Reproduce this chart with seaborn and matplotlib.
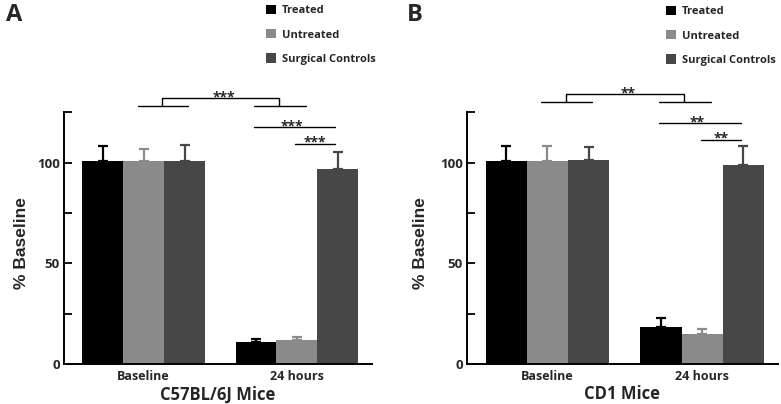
import matplotlib
matplotlib.use("Agg")
import numpy as np
import pandas as pd
import seaborn as sns
import matplotlib.pyplot as plt
from matplotlib import font_manager
from matplotlib.ticker import FixedLocator

# Datos
grupos = ["Treated", "Untreated", "Surgical Controls"]
tiempos = ["Baseline", "24 hours"]

# Panel A - C57BL/6J
a_treated = [101, 11]
a_untreated = [101, 12]
a_surgical = [101, 97]
a_treated_err = [7.5, 1.5]
a_untreated_err = [6, 1.5]
a_surgical_err = [8, 8.5]
a_stars = ["***", "***", "***"]

# Panel B - CD1
b_treated = [101, 18.5]
b_untreated = [101, 15]
b_surgical = [101.5, 99]
b_treated_err = [7.5, 4.5]
b_untreated_err = [7.5, 2.5]
b_surgical_err = [6.5, 9.5]
b_stars = ["**", "**", "**"]

colores = {"Treated": "#000000", "Untreated": "#8a8a8a", "Surgical Controls": "#474747"}

sns.set_theme(style="ticks")
plt.rcParams["font.family"] = ["Open Sans", "DejaVu Sans"]
plt.rcParams["font.weight"] = "bold"

nombres = {f.name for f in font_manager.fontManager.ttflist}
fuente_y = "Liberation Sans Narrow" if "Liberation Sans Narrow" in nombres else "Liberation Sans"
size_y = 14.5 if fuente_y == "Liberation Sans Narrow" else 12.5


def panel(fig, ax, valores, errores, xlabel, stars, top_y, leg_pos, ylabel_x):
    df = pd.DataFrame({
        "tiempo": tiempos * 3,
        "grupo": np.repeat(grupos, len(tiempos)),
        "valor": np.concatenate(valores),
    })
    sns.barplot(data=df, x="tiempo", y="valor", hue="grupo", order=tiempos,
                hue_order=grupos, palette=colores, saturation=1, width=0.8,
                linewidth=0, errorbar=None, ax=ax)

    # barras de error (solo hacia arriba)
    for cont, err, g in zip(ax.containers, errores, grupos):
        xs = [b.get_x() + b.get_width() / 2 for b in cont]
        ys = [b.get_height() for b in cont]
        ax.errorbar(xs, ys, yerr=[np.zeros(len(err)), err], fmt="none",
                    ecolor=colores[g], elinewidth=1.6, capsize=3.5, capthick=1.6)

    # corchetes de significancia
    kw = dict(color="black", lw=1.0, clip_on=False)
    ax.plot([0.12, 0.12, 0.88, 0.88], [top_y - 4, top_y, top_y, top_y - 4], **kw)
    ax.plot([-0.04, 0.29], [top_y - 4, top_y - 4], **kw)
    ax.plot([0.72, 1.06], [top_y - 4, top_y - 4], **kw)
    ax.plot([0.72, 1.25], [top_y - 14.5, top_y - 14.5], **kw)
    ax.plot([0.99, 1.25], [top_y - 22.5, top_y - 22.5], **kw)
    ax.text(0.52, top_y - 1.5, stars[0], ha="center", va="baseline", fontsize=10)
    ax.text(0.97, top_y - 16, stars[1], ha="center", va="baseline", fontsize=10)
    ax.text(1.12, top_y - 24, stars[2], ha="center", va="baseline", fontsize=10)

    ax.set_ylim(0, 150)
    ax.set_xlim(-0.52, 1.49)
    ax.yaxis.set_major_locator(FixedLocator([0, 50, 100]))
    ax.yaxis.set_minor_locator(FixedLocator([25, 75, 125]))
    ax.spines["left"].set_bounds(0, 125)
    for s in ["top", "right"]:
        ax.spines[s].set_visible(False)
    for s in ["left", "bottom"]:
        ax.spines[s].set_linewidth(1.4)
        ax.spines[s].set_color("black")
    ax.tick_params(axis="y", which="both", direction="in", length=6, width=1.3,
                   labelsize=9.5, pad=3, color="black")
    ax.tick_params(axis="x", length=0, labelsize=9, pad=4)

    ax.set_xlabel(xlabel, fontsize=12, labelpad=2, weight="bold")
    ax.set_ylabel("% Baseline", family=fuente_y, fontsize=size_y, weight="bold")
    ax.yaxis.set_label_coords(ylabel_x, 0.40)

    sns.move_legend(ax, "upper left", bbox_to_anchor=leg_pos,
                    bbox_transform=fig.transFigure, frameon=False, title=None,
                    prop={"weight": "bold", "size": 8}, handlelength=0.9,
                    handleheight=0.9, handletextpad=0.5, labelspacing=1.15,
                    borderpad=0, borderaxespad=0)


fig = plt.figure(figsize=(7.81, 4.04), dpi=100)
axA = fig.add_axes([64 / 781, 1 - 364 / 404, (372 - 64) / 781, 302 / 404])
axB = fig.add_axes([467 / 781, 1 - 364 / 404, (778 - 467) / 781, 302 / 404])

panel(fig, axA, [a_treated, a_untreated, a_surgical],
      [a_treated_err, a_untreated_err, a_surgical_err],
      "C57BL/6J Mice", a_stars, 132, (266 / 781, 1 - 5 / 404), -0.115)
panel(fig, axB, [b_treated, b_untreated, b_surgical],
      [b_treated_err, b_untreated_err, b_surgical_err],
      "CD1 Mice", b_stars, 134, (666 / 781, 1 - 6 / 404), -0.125)

fig.text(6 / 781, 1 - 3 / 404, "A", fontsize=17, weight="bold", va="top")
fig.text(407 / 781, 1 - 3 / 404, "B", fontsize=17, weight="bold", va="top")

fig.savefig("out.png", dpi=100, facecolor="white")
